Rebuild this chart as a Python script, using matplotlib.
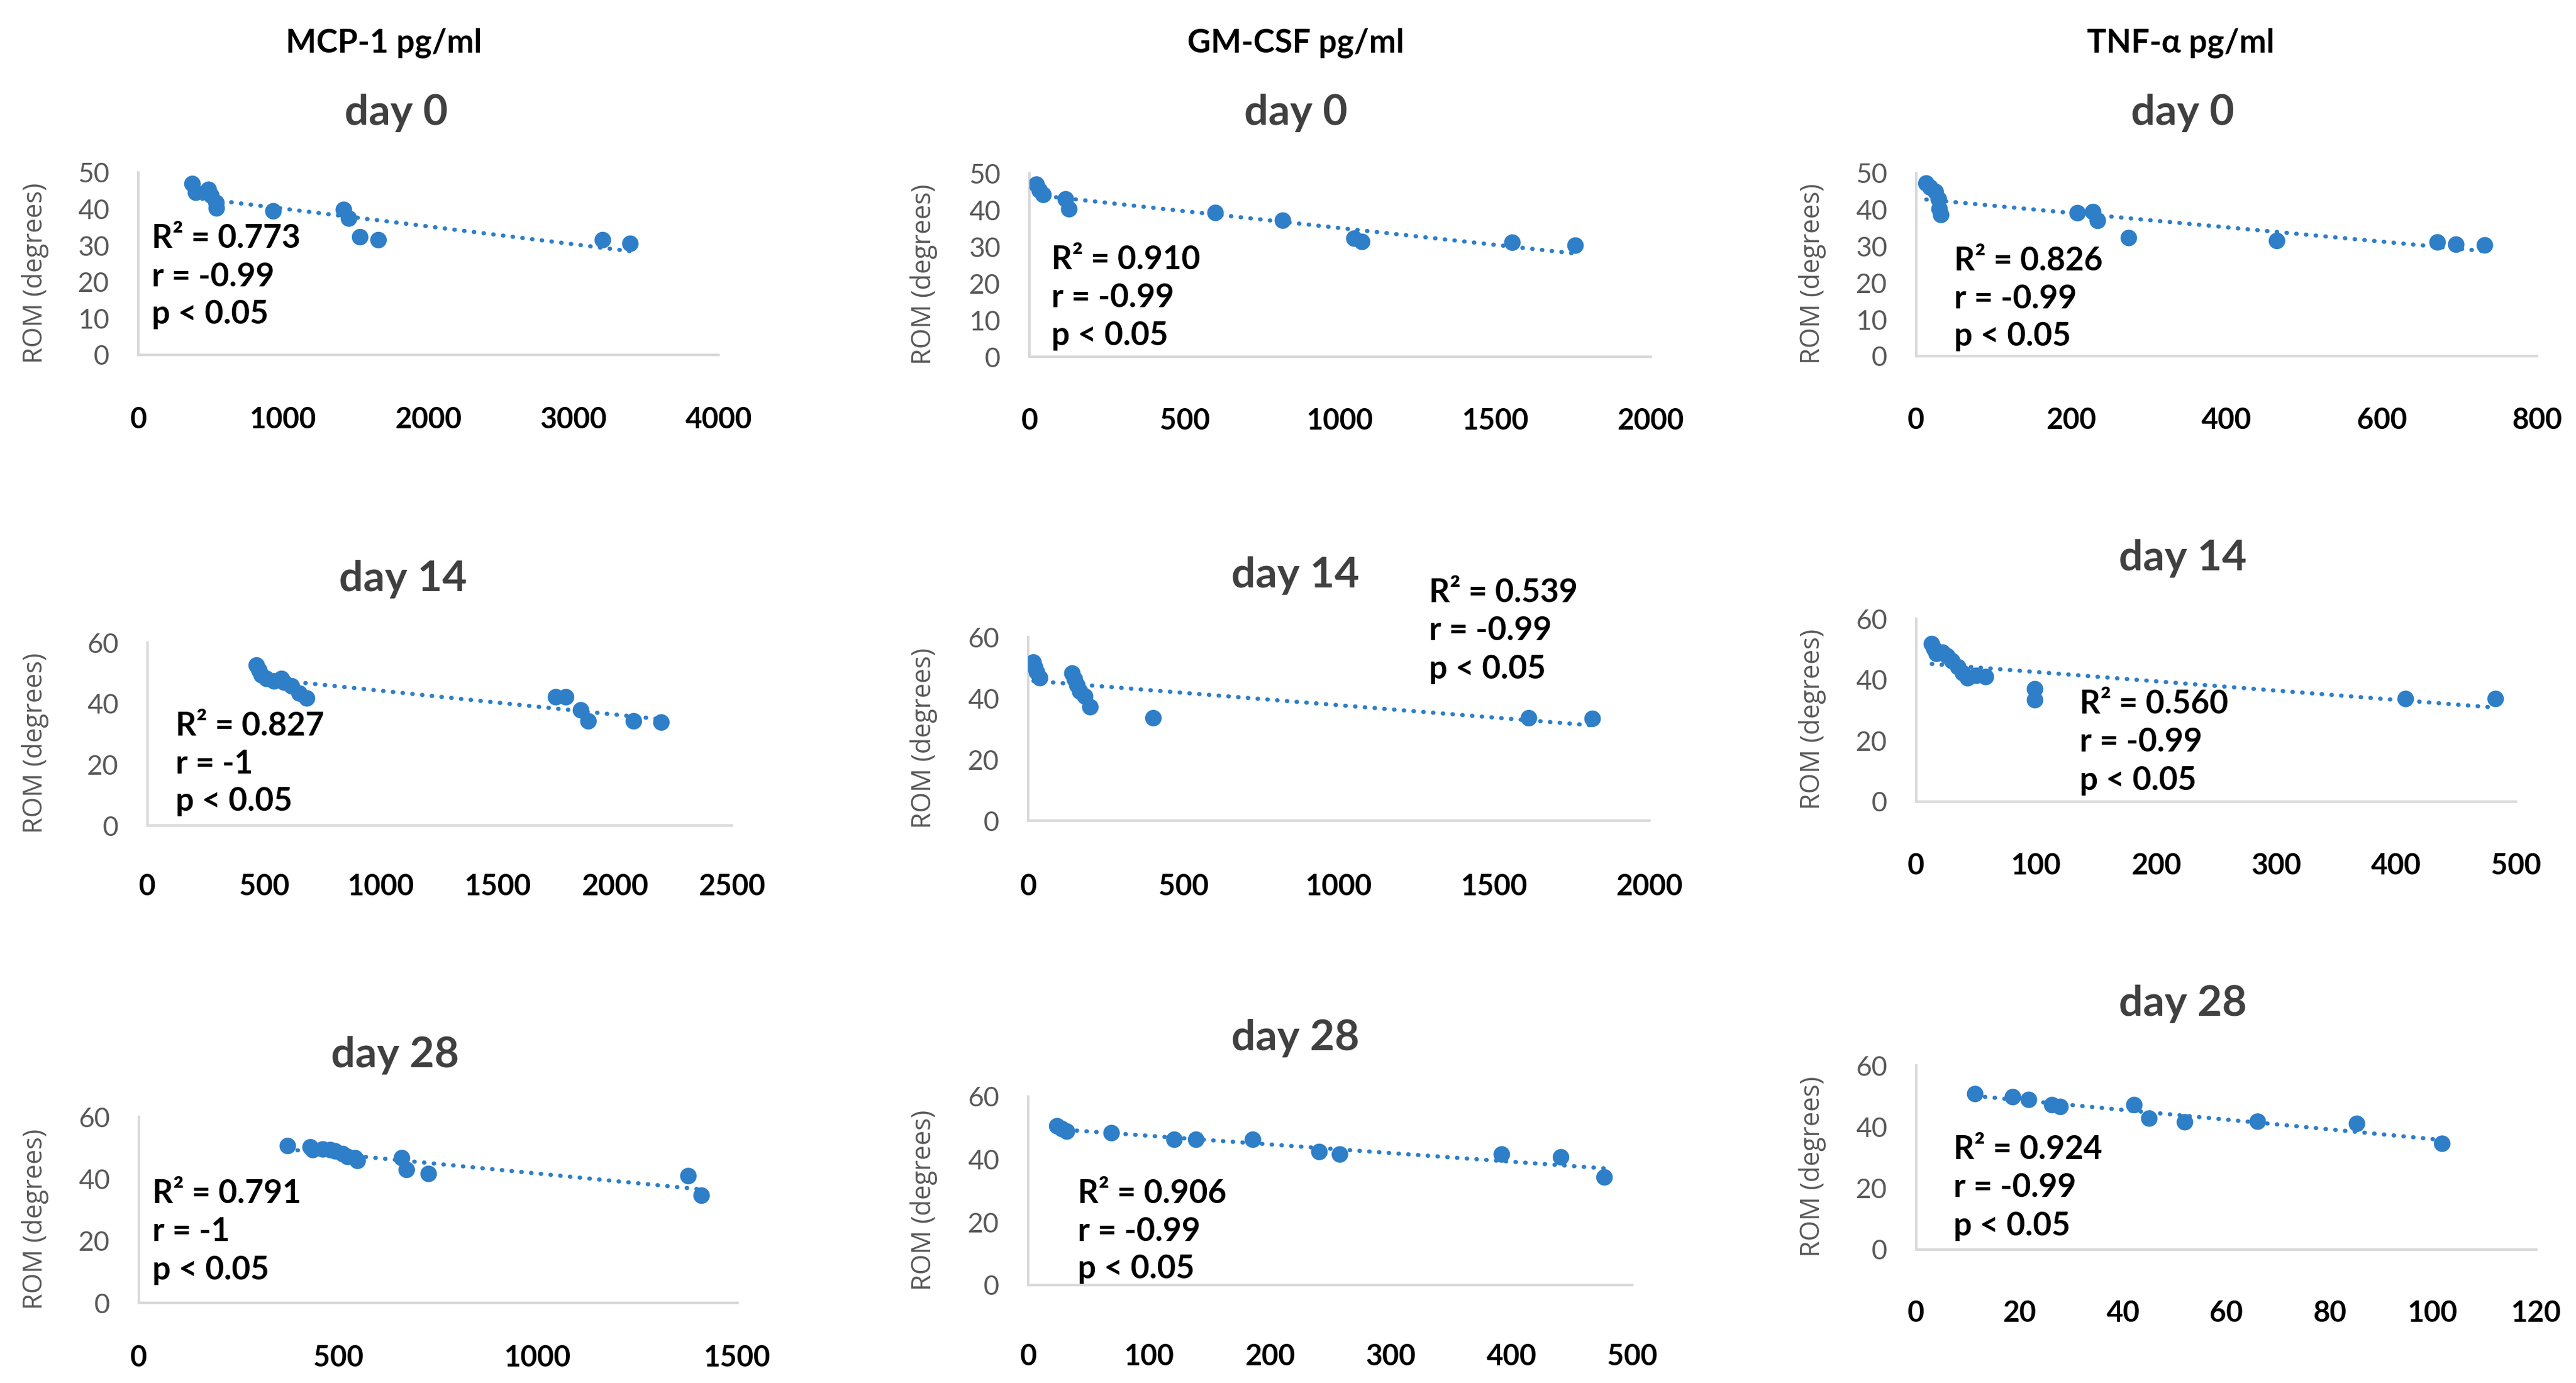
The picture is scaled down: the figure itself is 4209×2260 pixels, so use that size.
import numpy as np
import matplotlib
matplotlib.use("Agg")
import matplotlib.pyplot as plt

# ---------------- data ----------------
cytokines = ["MCP-1 pg/ml", "GM-CSF pg/ml", "TNF-α pg/ml"]
days = ["day 0", "day 14", "day 28"]

mcp1_d0_x = [373, 397, 485, 503, 538, 540, 931, 1417, 1452, 1529, 1656, 3202, 3392]
mcp1_d0_rom = [46.9, 44.5, 45.3, 43.7, 41.7, 40.2, 39.4, 39.8, 37.4, 32.3, 31.5, 31.5, 30.5]

gmcsf_d0_x = [23, 33, 45, 117, 128, 599, 816, 1046, 1071, 1555, 1758]
gmcsf_d0_rom = [46.9, 45.3, 44.1, 42.9, 40.2, 39.2, 37.1, 32.2, 31.3, 31.1, 30.3]

tnf_d0_x = [13, 18, 25, 29, 30, 32, 208, 228, 234, 274, 465, 672, 696, 733]
tnf_d0_rom = [47.2, 46.1, 44.9, 42.9, 40.2, 38.6, 39.1, 39.4, 37.0, 32.3, 31.5, 31.1, 30.5, 30.3]

mcp1_d14_x = [467, 478, 488, 510, 542, 574, 585, 617, 650, 682, 1747, 1790, 1854, 1886, 2080, 2198]
mcp1_d14_rom = [52.5, 50.9, 49.3, 48.1, 47.3, 48.1, 46.9, 45.7, 43.3, 41.7, 42.1, 42.1, 37.8, 34.2, 34.2, 33.8]

gmcsf_d14_x = [17, 22, 28, 38, 142, 150, 158, 167, 183, 200, 403, 1612, 1817]
gmcsf_d14_rom = [51.7, 50.1, 48.5, 46.6, 48.1, 46.2, 44.2, 42.2, 40.6, 37.1, 33.5, 33.5, 33.3]

tnf_d14_x = [13, 15, 17, 22, 26, 30, 35, 39, 43, 50, 58, 99, 99, 408, 483]
tnf_d14_rom = [51.7, 50.1, 48.5, 48.9, 47.7, 46.1, 44.1, 42.1, 40.5, 41.3, 40.9, 36.9, 33.3, 33.7, 33.7]

mcp1_d28_x = [373, 430, 436, 461, 480, 492, 511, 523, 542, 548, 659, 671, 726, 1377, 1410]
mcp1_d28_rom = [50.6, 50.2, 49.3, 49.5, 49.3, 48.9, 48.0, 47.1, 46.7, 45.8, 46.7, 42.9, 41.6, 40.9, 34.6]

gmcsf_d28_x = [24, 28, 32, 69, 121, 139, 186, 241, 258, 392, 441, 477]
gmcsf_d28_rom = [50.6, 49.7, 48.9, 48.4, 46.3, 46.3, 46.3, 42.4, 41.6, 41.6, 40.7, 34.3]

tnf_d28_x = [11.4, 18.7, 21.8, 26.3, 27.9, 42.2, 45.1, 52.0, 66.1, 85.3, 101.8]
tnf_d28_rom = [50.7, 49.7, 48.8, 47.1, 46.5, 47.1, 42.7, 41.5, 41.7, 41.0, 34.5]

r2_labels = ["R² = 0.773", "R² = 0.910", "R² = 0.826",
             "R² = 0.827", "R² = 0.539", "R² = 0.560",
             "R² = 0.791", "R² = 0.906", "R² = 0.924"]
r_labels = ["r = -0.99", "r = -0.99", "r = -0.99",
            "r = -1", "r = -0.99", "r = -0.99",
            "r = -1", "r = -0.99", "r = -0.99"]
p_label = "p < 0.05"

x_max = [4000, 2000, 800, 2500, 2000, 500, 1500, 500, 120]
x_step = [1000, 500, 200, 500, 500, 100, 500, 100, 20]
y_max = [50, 50, 50, 60, 60, 60, 60, 60, 60]
y_step = [10, 10, 10, 20, 20, 20, 20, 20, 20]

xs = [mcp1_d0_x, gmcsf_d0_x, tnf_d0_x, mcp1_d14_x, gmcsf_d14_x, tnf_d14_x,
      mcp1_d28_x, gmcsf_d28_x, tnf_d28_x]
ys = [mcp1_d0_rom, gmcsf_d0_rom, tnf_d0_rom, mcp1_d14_rom, gmcsf_d14_rom, tnf_d14_rom,
      mcp1_d28_rom, gmcsf_d28_rom, tnf_d28_rom]

# ---------------- layout (pixels) ----------------
W, H = 4209, 2260
# left, right, top, bottom of each plot area
boxes = [(226, 1174, 282, 580), (1682, 2697, 283, 583), (3131, 4145, 283, 582),
         (241, 1196, 1050, 1349), (1680, 2695, 1041, 1341), (3131, 4111, 1011, 1310),
         (227, 1205, 1825, 2129), (1680, 2667, 1792, 2100), (3131, 4144, 1741, 2042)]
xlab_offset = [101, 100, 100, 95, 103, 100, 85, 112, 99]
ann_pos = [(248, 390), (1718, 425), (3193, 426),
           (287, 1186), (2335, 969), (3398, 1151),
           (249, 1951), (1761, 1950), (3192, 1879)]
title_pos = [(647, 184), (2117, 184), (3566, 184),
             (658, 947), (2117, 940), (3567, 912),
             (646, 1724), (2117, 1696), (3567, 1641)]
header_pos = [(627, 70), (2117, 70), (3563, 70)]
ylab_x = [58, 1510, 2961]

PT = 100 / 72.0
BLUE = "#2E7EC8"
FONT = "Lato"

fig = plt.figure(figsize=(W / 100, H / 100), dpi=100)
fig.patch.set_facecolor("white")

def fx(px):
    return px / W

def fy(py):
    return 1 - py / H

for i in range(9):
    l, r, t, b = boxes[i]
    ax = fig.add_axes([fx(l), fy(b), (r - l) / W, (b - t) / H])
    x = np.array(xs[i], dtype=float)
    y = np.array(ys[i], dtype=float)
    ax.scatter(x, y, s=380, color=BLUE, edgecolors="none", zorder=3)
    k, c = np.polyfit(x, y, 1)
    xt = np.array([x.min(), x.max()])
    ax.plot(xt, k * xt + c, color=BLUE, lw=5, linestyle=(0, (0.1, 2.2)),
            dash_capstyle="round", zorder=4)
    ax.set_xlim(0, x_max[i])
    ax.set_ylim(0, y_max[i])
    ax.set_xticks(np.arange(0, x_max[i] + 1e-9, x_step[i]))
    ax.set_yticks(np.arange(0, y_max[i] + 1e-9, y_step[i]))
    ax.set_xticklabels([f"{v:g}" for v in np.arange(0, x_max[i] + 1e-9, x_step[i])])
    for s in ["top", "right"]:
        ax.spines[s].set_visible(False)
    for s in ["left", "bottom"]:
        ax.spines[s].set_color("#d9d9d9")
        ax.spines[s].set_linewidth(3)
    ax.tick_params(axis="both", length=0)
    ax.tick_params(axis="x", pad=(xlab_offset[i] - 17) / PT)
    ax.tick_params(axis="y", pad=34)
    for lab in ax.get_xticklabels():
        lab.set_fontfamily(FONT)
        lab.set_fontweight("bold")
        lab.set_fontsize(34)
        lab.set_color("black")
    for lab in ax.get_yticklabels():
        lab.set_fontfamily(FONT)
        lab.set_fontsize(32)
        lab.set_color("#595959")
    ax.patch.set_alpha(0)

    # ylabel
    col = i % 3
    fig.text(fx(ylab_x[col]), fy((t + b) / 2 + 15), "ROM (degrees)", rotation=90,
             ha="center", va="center", fontsize=31, color="#595959",
             family="Open Sans")
    # title
    tx, ty = title_pos[i]
    fig.text(fx(tx), fy(ty), days[i // 3], ha="center", va="center",
             fontsize=50, fontweight="bold", color="#404040", family=FONT)
    # annotations
    axp, ayp = ann_pos[i]
    for j, s in enumerate([r2_labels[i], r_labels[i], p_label]):
        fig.text(fx(axp), fy(ayp + 62 * j), s, ha="left", va="center",
                 fontsize=38, fontweight="bold", color="black", family=FONT)

for j in range(3):
    hx, hy = header_pos[j]
    fig.text(fx(hx), fy(hy), cytokines[j], ha="center", va="center",
             fontsize=38, fontweight="bold", color="black", family=FONT)

fig.savefig("out.png", dpi=100, facecolor="white")
